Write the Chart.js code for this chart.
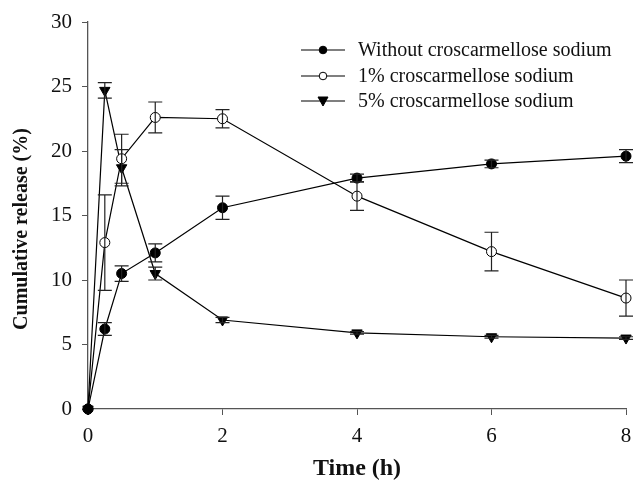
<!DOCTYPE html>
<html><head><meta charset="utf-8">
<script src="https://cdn.jsdelivr.net/npm/chart.js@4"></script>
<style>html,body{margin:0;padding:0;background:#fff}#wrap{width:633px;height:481px}</style>
</head><body><div id="wrap"><canvas id="c" width="633" height="481"></canvas></div>
<script>
const times = [0, 0.25, 0.5, 1, 2, 4, 6, 8];
const seriesNames = ["Without croscarmellose sodium", "1% croscarmellose sodium", "5% croscarmellose sodium"];
const withoutVals = [0, 6.2, 10.5, 12.1, 15.6, 17.9, 19.0, 19.6];
const withoutErr  = [0, 0.5, 0.6, 0.7, 0.9, 0.3, 0.3, 0.5];
const onePctVals  = [0, 12.9, 19.4, 22.6, 22.5, 16.5, 12.2, 8.6];
const onePctErr   = [0, 3.7, 1.9, 1.2, 0.7, 1.1, 1.5, 1.4];
const fivePctVals = [0, 24.7, 18.7, 10.5, 6.9, 5.9, 5.6, 5.5];
const fivePctErr  = [0, 0.6, 1.4, 0.5, 0.2, 0.1, 0.1, 0.1];
const xTicks = [0, 2, 4, 6, 8];
const yTicks = [0, 5, 10, 15, 20, 25, 30];
const xTitle = 'Time (h)';
const yTitle = 'Cumulative release (%)';

const errs = [withoutErr, onePctErr, fivePctErr];
const FONT = "'Liberation Serif', 'Times New Roman', serif";

function mk(vals){ return times.map((t,i)=>({x:t,y:vals[i]})); }

const errorBars = {
  id:'errorBars',
  afterDatasetsDraw(chart){
    const ctx = chart.ctx, xs = chart.scales.x, ys = chart.scales.y;
    ctx.save();
    ctx.strokeStyle = '#222'; ctx.lineWidth = 1.2;
    chart.data.datasets.forEach((ds,di)=>{
      ds.data.forEach((p,i)=>{
        const e = errs[di][i]; if(!e) return;
        const px = xs.getPixelForValue(p.x);
        const top = ys.getPixelForValue(p.y+e), bot = ys.getPixelForValue(p.y-e);
        ctx.beginPath();
        ctx.moveTo(px, top); ctx.lineTo(px, bot);
        ctx.moveTo(px-7, top); ctx.lineTo(px+7, top);
        ctx.moveTo(px-7, bot); ctx.lineTo(px+7, bot);
        ctx.stroke();
      });
    });
    ctx.restore();
  }
};

const customText = {
  id:'customText',
  afterDraw(chart){
    const ctx = chart.ctx, ca = chart.chartArea;
    ctx.save();
    ctx.translate(22, 229);
    ctx.rotate(-Math.PI/2);
    ctx.fillStyle='#111'; ctx.font = "bold 20px "+FONT;
    ctx.textAlign='center'; ctx.textBaseline='middle';
    ctx.fillText(yTitle, 0, 0);
    ctx.restore();

    ctx.save();
    ctx.fillStyle='#111'; ctx.font = "bold 24px "+FONT;
    ctx.textAlign='center'; ctx.textBaseline='middle';
    ctx.fillText(xTitle, (ca.left+ca.right)/2, 469);
    ctx.restore();

    ctx.save();
    const x0 = 301, x1 = 345, rows=[50,76,101];
    chart.data.datasets.forEach((ds,i)=>{
      const y = rows[i];
      ctx.strokeStyle='#000'; ctx.lineWidth=1.2;
      ctx.beginPath(); ctx.moveTo(x0,y); ctx.lineTo(x1,y); ctx.stroke();
      const cx=(x0+x1)/2;
      ctx.fillStyle = ds.pointBackgroundColor; ctx.lineWidth=1;
      ctx.beginPath();
      if(ds.pointStyle==='triangle'){
        ctx.moveTo(cx-5,y-4); ctx.lineTo(cx+5,y-4); ctx.lineTo(cx,y+5); ctx.closePath();
      } else {
        ctx.arc(cx,y,3.8,0,Math.PI*2);
      }
      ctx.fill(); ctx.stroke();
      ctx.fillStyle='#111'; ctx.font = "20px "+FONT; ctx.textBaseline='middle'; ctx.textAlign='left';
      ctx.fillText(seriesNames[i], 358, y+1);
    });
    ctx.restore();
  }
};

const common = {borderColor:'#000', borderWidth:1.2, pointBorderColor:'#000', pointBorderWidth:1, tension:0, fill:false, clip:false};

new Chart(document.getElementById('c'), {
  type:'line',
  data:{datasets:[
    Object.assign({label:seriesNames[0], data:mk(withoutVals), pointStyle:'circle', pointRadius:5, pointBackgroundColor:'#000'}, common),
    Object.assign({label:seriesNames[1], data:mk(onePctVals), pointStyle:'circle', pointRadius:5, pointBackgroundColor:'#fff'}, common),
    Object.assign({label:seriesNames[2], data:mk(fivePctVals), pointStyle:'triangle', rotation:180, pointRadius:6, pointBackgroundColor:'#000'}, common)
  ]},
  options:{
    responsive:false, animation:false,
    layout:{padding:{top:22,right:3,left:0,bottom:0}},
    plugins:{legend:{display:false}, tooltip:{enabled:false}},
    scales:{
      x:{type:'linear', min:0, max:8,
        afterBuildTicks(s){ s.ticks = xTicks.map(v=>({value:v})); },
        afterFit(s){ s.height = 72; s.paddingRight = 0; s.paddingLeft = 0; },
        grid:{display:true, drawOnChartArea:false, drawTicks:true, tickLength:6, color:'#555', tickColor:'#555'},
        border:{display:true, color:'#555', width:1.3},
        ticks:{color:'#111', font:{family:FONT, size:21}, padding:9},
        title:{display:false}
      },
      y:{type:'linear', min:0, max:30,
        afterBuildTicks(s){ s.ticks = yTicks.map(v=>({value:v})); },
        afterFit(s){ s.width = 88; s.paddingTop = 0; s.paddingBottom = 0; },
        grid:{display:true, drawOnChartArea:false, drawTicks:true, tickLength:6, color:'#555', tickColor:'#555'},
        border:{display:true, color:'#555', width:1.3},
        ticks:{color:'#111', font:{family:FONT, size:21}, padding:10},
        title:{display:false}
      }
    }
  },
  plugins:[errorBars, customText]
});
</script>
</body></html>
